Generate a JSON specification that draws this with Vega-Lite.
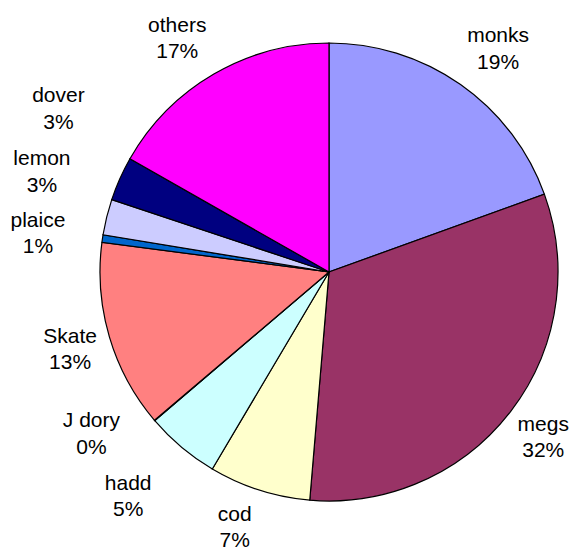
{
  "$schema": "https://vega.github.io/schema/vega-lite/v6.json",
  "autosize": "none",
  "width": 458,
  "height": 458,
  "padding": {"left": 100, "top": 43, "right": 17, "bottom": 50},
  "background": "white",
  "view": {"stroke": null},
  "config": {
    "text": {"font": "Liberation Sans", "fontSize": 21, "lineHeight": 26.5, "lineBreak": "\n", "align": "center", "baseline": "alphabetic", "color": "black", "radius": 270}
  },
  "data": {
    "values": [
      {"i": 1, "name": "monks", "value": 0.1948},
      {"i": 2, "name": "megs", "value": 0.3186},
      {"i": 3, "name": "cod", "value": 0.0717},
      {"i": 4, "name": "hadd", "value": 0.0525},
      {"i": 5, "name": "J dory", "value": 0.0003},
      {"i": 6, "name": "Skate", "value": 0.1328},
      {"i": 7, "name": "plaice", "value": 0.0053},
      {"i": 8, "name": "lemon", "value": 0.0252},
      {"i": 9, "name": "dover", "value": 0.0311},
      {"i": 10, "name": "others", "value": 0.1677}
    ]
  },
  "transform": [
    {"stack": "value", "groupby": [], "sort": [{"field": "i", "order": "ascending"}], "as": ["v0", "v1"]},
    {"calculate": "(datum.v0 + datum.v1) / 2", "as": "mid"},
    {"calculate": "datum.name + '\\n' + format(datum.value, '.0%')", "as": "label"}
  ],
  "layer": [
    {
      "mark": {"type": "arc", "stroke": "black", "strokeWidth": 1.2},
      "encoding": {
        "theta": {"field": "v0", "type": "quantitative", "stack": null, "scale": {"domain": [0, 1]}},
        "theta2": {"field": "v1"},
        "color": {
          "field": "name",
          "type": "nominal",
          "legend": null,
          "scale": {
            "domain": ["monks", "megs", "cod", "hadd", "J dory", "Skate", "plaice", "lemon", "dover", "others"],
            "range": ["#9999FF", "#993366", "#FFFFCC", "#CCFFFF", "#660066", "#FF8080", "#0066CC", "#CCCCFF", "#000080", "#FF00FF"]
          }
        }
      }
    },
    {
      "transform": [{"filter": {"field": "name", "oneOf": ["megs", "Skate"]}}],
      "mark": {"type": "text", "dx": 0, "dy": -5.5},
      "encoding": {
        "theta": {"field": "mid", "type": "quantitative", "stack": null, "scale": {"domain": [0, 1]}},
        "text": {"field": "label", "type": "nominal"}
      }
    },
    {
      "transform": [{"filter": {"field": "name", "equal": "monks"}}],
      "mark": {"type": "text", "dx": 14, "dy": -9},
      "encoding": {
        "theta": {"field": "mid", "type": "quantitative", "stack": null, "scale": {"domain": [0, 1]}},
        "text": {"field": "label", "type": "nominal"}
      }
    },
    {
      "transform": [{"filter": {"field": "name", "equal": "others"}}],
      "mark": {"type": "text", "dx": -16, "dy": -7},
      "encoding": {
        "theta": {"field": "mid", "type": "quantitative", "stack": null, "scale": {"domain": [0, 1]}},
        "text": {"field": "label", "type": "nominal"}
      }
    },
    {
      "transform": [{"filter": {"field": "name", "equal": "cod"}}],
      "mark": {"type": "text", "dx": -12, "dy": -8.5},
      "encoding": {
        "theta": {"field": "mid", "type": "quantitative", "stack": null, "scale": {"domain": [0, 1]}},
        "text": {"field": "label", "type": "nominal"}
      }
    },
    {
      "transform": [{"filter": {"field": "name", "equal": "hadd"}}],
      "mark": {"type": "text", "dx": -27, "dy": 11},
      "encoding": {
        "theta": {"field": "mid", "type": "quantitative", "stack": null, "scale": {"domain": [0, 1]}},
        "text": {"field": "label", "type": "nominal"}
      }
    },
    {
      "transform": [{"filter": {"field": "name", "equal": "J dory"}}],
      "mark": {"type": "text", "dx": -32, "dy": -20},
      "encoding": {
        "theta": {"field": "mid", "type": "quantitative", "stack": null, "scale": {"domain": [0, 1]}},
        "text": {"field": "label", "type": "nominal"}
      }
    },
    {
      "transform": [{"filter": {"field": "name", "equal": "plaice"}}],
      "mark": {"type": "text", "dx": -24, "dy": -6},
      "encoding": {
        "theta": {"field": "mid", "type": "quantitative", "stack": null, "scale": {"domain": [0, 1]}},
        "text": {"field": "label", "type": "nominal"}
      }
    },
    {
      "transform": [{"filter": {"field": "name", "equal": "lemon"}}],
      "mark": {"type": "text", "dx": -25, "dy": -42},
      "encoding": {
        "theta": {"field": "mid", "type": "quantitative", "stack": null, "scale": {"domain": [0, 1]}},
        "text": {"field": "label", "type": "nominal"}
      }
    },
    {
      "transform": [{"filter": {"field": "name", "equal": "dover"}}],
      "mark": {"type": "text", "dx": -24, "dy": -60},
      "encoding": {
        "theta": {"field": "mid", "type": "quantitative", "stack": null, "scale": {"domain": [0, 1]}},
        "text": {"field": "label", "type": "nominal"}
      }
    }
  ]
}
